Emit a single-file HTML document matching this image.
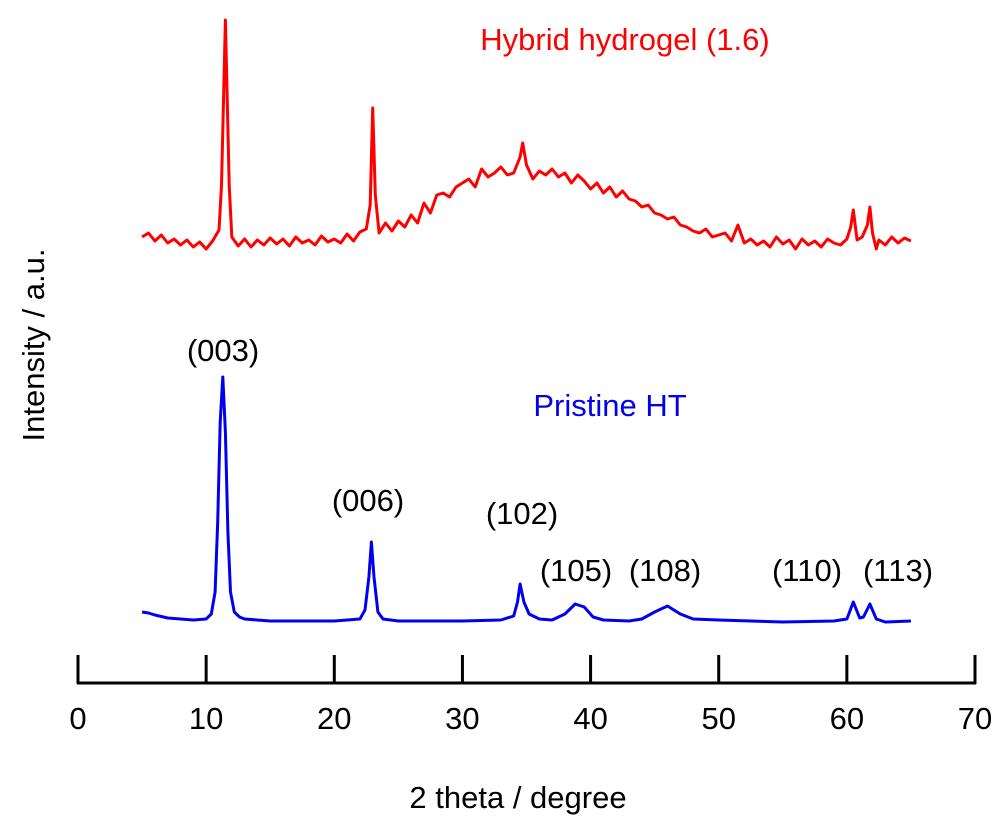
<!DOCTYPE html>
<html><head><meta charset="utf-8"><style>
body{margin:0;background:#fff}
svg{display:block;font-family:"Liberation Sans",Arial,sans-serif}
</style></head><body>
<svg id="chart" width="1000" height="821" viewBox="0 0 1000 821">
<g id="axis"></g>
<g id="series"></g>
<text x="625" y="50" font-size="31" fill="#ff0000" text-anchor="middle">Hybrid hydrogel (1.6)</text>
<text x="610" y="416" font-size="31" fill="#0000ee" text-anchor="middle">Pristine HT</text>
<g id="peaklabels"></g>
<text x="518" y="808" font-size="31" text-anchor="middle">2 theta / degree</text>
<text transform="translate(44,345) rotate(-90)" font-size="31" text-anchor="middle">Intensity / a.u.</text>
</svg>
<script>
const xTicks=[0,10,20,30,40,50,60,70];
const blueX=[5,5.5,6,7,8,9,10,10.4,10.7,10.9,11.1,11.3,11.5,11.7,11.9,12.2,12.6,13,15,20,22,22.4,22.7,22.9,23.1,23.4,23.8,25,30,33,34,34.3,34.5,34.8,35.2,36,37,38,38.8,39.5,40.2,41,43,44,45,46,47,48,50,55,59,60,60.5,61,61.3,61.8,62.3,63,65];
const blueY=[10,9,7,4,3,2,3,8,30,100,200,245,190,90,30,10,5,3,1,1,3,12,45,80,45,10,3,1,1,2,6,20,38,20,8,3,2,8,18,15,5,2,1,3,10,16,8,3,2,0,1,3,20,4,5,18,3,0,1];
const redX=[5,5.5,6,6.5,7,7.5,8,8.5,9,9.5,10,10.5,11,11.2,11.5,11.8,12,12.5,13,13.5,14,14.5,15,15.5,16,16.5,17,17.5,18,18.5,19,19.5,20,20.5,21,21.5,22,22.5,22.8,23,23.2,23.5,24,24.5,25,25.5,26,26.5,27,27.5,28,28.5,29,29.5,30,30.5,31,31.5,32,32.5,33,33.5,34,34.5,34.7,35,35.5,36,36.5,37,37.5,38,38.5,39,39.5,40,40.5,41,41.5,42,42.5,43,43.5,44,44.5,45,45.5,46,46.5,47,47.5,48,48.5,49,49.5,50,50.5,51,51.5,52,52.5,53,53.5,54,54.5,55,55.5,56,56.5,57,57.5,58,58.5,59,59.5,60,60.3,60.5,60.8,61.2,61.6,61.8,62,62.3,62.5,63,63.5,64,64.5,65];
const redY=[8,12,4,10,2,6,0,5,-2,3,-4,4,15,60,225,60,8,-1,6,-2,5,0,7,1,6,-1,8,2,5,0,9,3,6,2,11,4,13,16,40,137,50,12,22,14,24,18,30,22,42,32,50,52,48,58,62,66,58,76,68,72,78,70,72,88,102,80,66,74,70,76,68,72,62,70,64,56,62,52,58,48,54,46,44,38,40,32,30,26,28,20,18,14,12,16,8,10,12,4,20,2,6,0,4,-2,8,1,5,-4,6,0,4,-2,6,2,0,6,18,35,5,8,20,38,12,-4,5,0,8,2,7,4];
const peakNames=["(003)","(006)","(102)","(105)","(108)","(110)","(113)"];
const peakLX=[223,368,522,576,665,807,898];
const peakLY=[361,511,524,581,581,581,581];
const NS="http://www.w3.org/2000/svg";
const xs=v=>78+v*(975-78)/70;
const ax=document.getElementById('axis');
function mk(t,a,p){const e=document.createElementNS(NS,t);for(const k in a)e.setAttribute(k,a[k]);p.appendChild(e);return e;}
const al=mk('line',{x1:77,x2:976,y1:683,y2:683,stroke:'#000','stroke-width':3},ax);


xTicks.forEach(t=>{
  const l=mk('line',{x1:xs(t),x2:xs(t),y1:655,y2:684,stroke:'#000','stroke-width':3},ax);
  
  
  const tx=mk('text',{x:xs(t),y:729,'font-size':31,'text-anchor':'middle'},ax);
  tx.textContent=t;
  
  
});
const sg=document.getElementById('series');
function line(X,Y,base,color,name){
  const d=X.map((x,i)=>(i?'L':'M')+xs(x).toFixed(1)+','+(base-Y[i]).toFixed(1)).join('');
  const p=mk('path',{d:d,fill:'none',stroke:color,'stroke-width':3,'stroke-linejoin':'round'},sg);
  
  
}
line(redX,redY,245,'#ff0000','hybrid-hydrogel-line');
line(blueX,blueY,622,'#0000ee','pristine-ht-line');
const pl=document.getElementById('peaklabels');
peakNames.forEach((n,i)=>{
  const t=mk('text',{x:peakLX[i],y:peakLY[i],'font-size':31,'text-anchor':'middle'},pl);
  t.textContent=n;
  
  
});
</script>
</body></html>
